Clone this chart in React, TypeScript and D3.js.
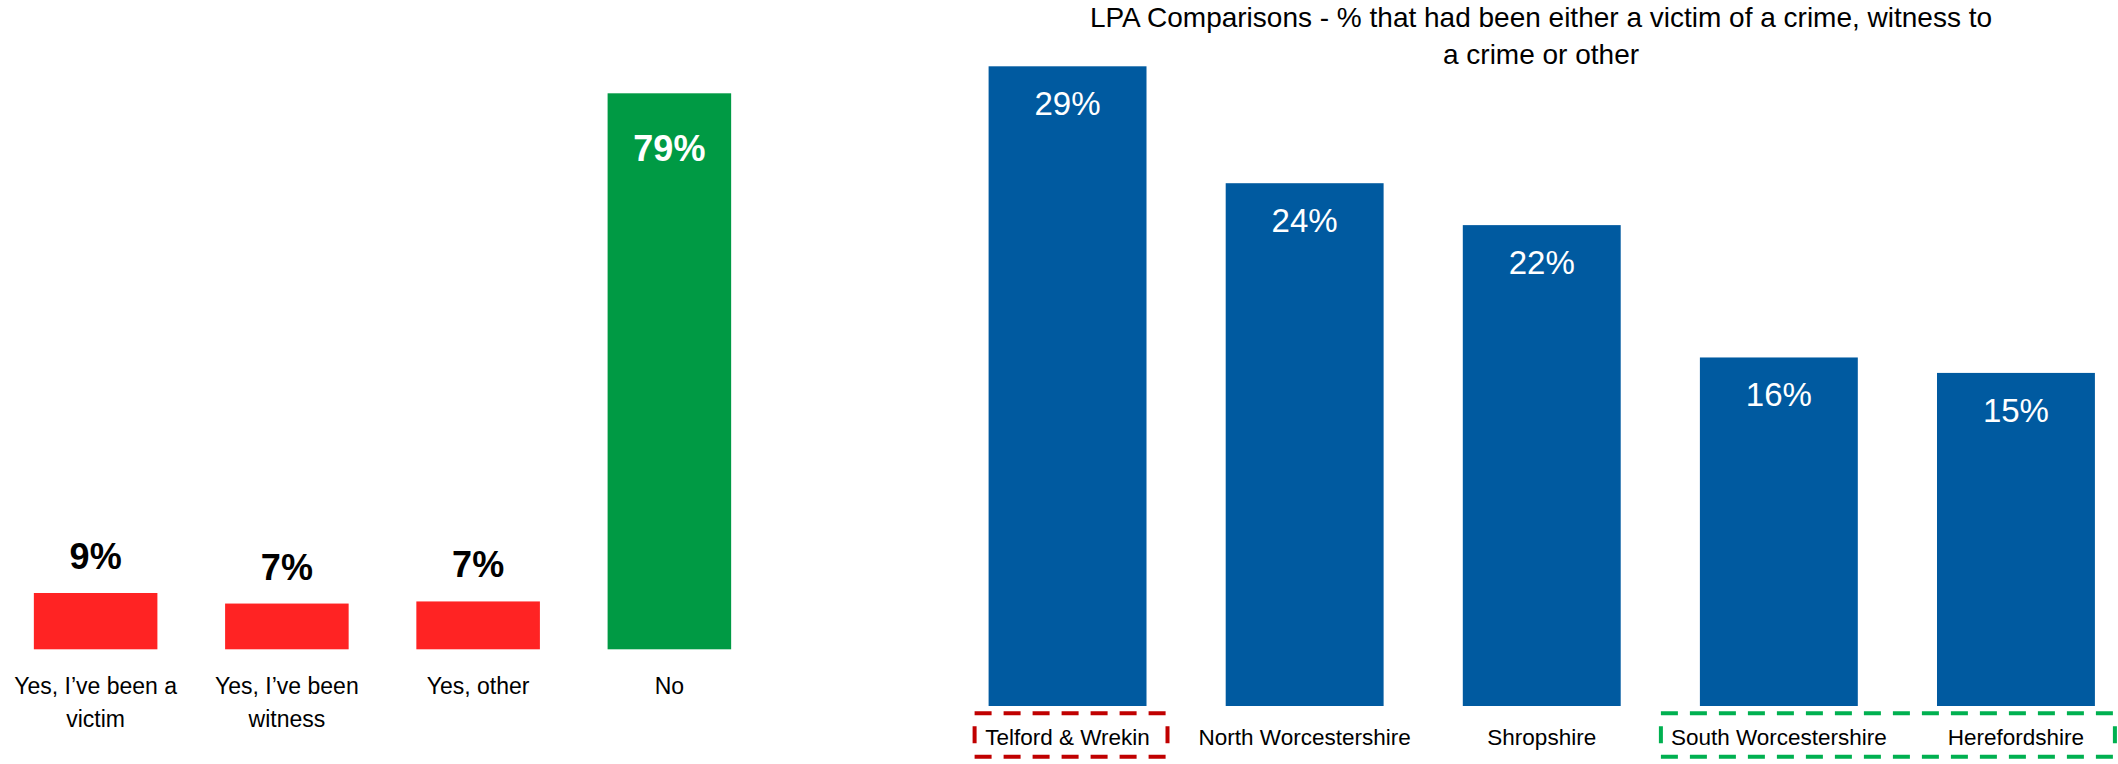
import React from "react";
import * as d3 from "d3";

// left panel: all respondents
const surveyCategories = ["victim", "witness", "other", "no"];
const surveyLines = [
  ["Yes, I’ve been a", "victim"],
  ["Yes, I’ve been", "witness"],
  ["Yes, other"],
  ["No"],
];
const surveyValues = [8.0, 6.5, 6.8, 79];
const surveyLabels = ["9%", "7%", "7%", "79%"];

// right panel: LPA comparison
const lpaCategories = [
  "Telford & Wrekin",
  "North Worcestershire",
  "Shropshire",
  "South Worcestershire",
  "Herefordshire",
];
const lpaValues = [29, 23.7, 21.8, 15.8, 15.1];
const lpaLabels = ["29%", "24%", "22%", "16%", "15%"];

const titleLines = [
  "LPA Comparisons - % that had been either a victim of a crime, witness  to",
  "a crime or other",
];

const highlightGroups = [
  { cats: ["Telford & Wrekin"], color: "#C00000", padL: 14, padR: 21 },
  { cats: ["South Worcestershire", "Herefordshire"], color: "#00B050", padL: 39, padR: 20 },
];

const W = 2118;
const H = 764;
const FONT = "'Liberation Sans Narrow', 'Arial Narrow', 'Liberation Sans', sans-serif";

const RED = "#FF2323";
const GREEN = "#009A44";
const BLUE = "#005AA0";

export default function App() {
  const xL = d3.scaleBand<string>().domain(surveyCategories).range([0, 765]).paddingInner(0.354).paddingOuter(0.177);
  const yL = d3.scaleLinear().domain([0, 79]).range([649.3, 93.3]);

  const xR = d3.scaleBand<string>().domain(lpaCategories).range([949, 2134.5]).paddingInner(0.334).paddingOuter(0.167);
  const yR = d3.scaleLinear().domain([0, 29]).range([706, 66.3]);

  return (
    <svg width={W} height={H} style={{ position: "absolute", left: 0, top: 0, background: "#fff" }} fontFamily={FONT}>
      {/* left chart */}
      {surveyCategories.map((c, i) => {
        const x = xL(c)!;
        const bw = xL.bandwidth();
        const isNo = c === "no";
        const top = yL(surveyValues[i]);
        return (
          <g key={c}>
            <rect x={x} y={top} width={bw} height={yL(0) - top} fill={isNo ? GREEN : RED} />
            <text
              x={x + bw / 2}
              y={isNo ? top + 68 : top - 24}
              textAnchor="middle"
              fontWeight="bold"
              fontSize={36}
              fill={isNo ? "#fff" : "#000"}
            >
              {surveyLabels[i]}
            </text>
            {surveyLines[i].map((ln, j) => (
              <text key={j} x={x + bw / 2} y={694 + j * 32.5} textAnchor="middle" fontSize={23} fill="#000">
                {ln}
              </text>
            ))}
          </g>
        );
      })}

      {/* right chart */}
      {titleLines.map((t, i) => (
        <text key={i} x={1541} y={26.5 + i * 37.5} textAnchor="middle" fontSize={28} fill="#000">
          {t}
        </text>
      ))}
      {lpaCategories.map((c, i) => {
        const x = xR(c)!;
        const bw = xR.bandwidth();
        const top = yR(lpaValues[i]);
        return (
          <g key={c}>
            <rect x={x} y={top} width={bw} height={yR(0) - top} fill={BLUE} />
            <text x={x + bw / 2} y={top + 49} textAnchor="middle" fontSize={33} fill="#fff">
              {lpaLabels[i]}
            </text>
            <text x={x + bw / 2} y={745} textAnchor="middle" fontSize={22.5} fill="#000">
              {c}
            </text>
          </g>
        );
      })}

      {/* dashed highlight boxes around labels */}
      {highlightGroups.map((g, i) => {
        const first = g.cats[0];
        const last = g.cats[g.cats.length - 1];
        const x0 = xR(first)! - g.padL;
        const x1 = xR(last)! + xR.bandwidth() + g.padR;
        const y0 = 713.3;
        const y1 = 756.7;
        const dash = "17 12";
        const side = "0 13 17 100";
        return (
          <g key={i} stroke={g.color} strokeWidth={4} fill="none">
            <line x1={x0} x2={x1} y1={y0} y2={y0} strokeDasharray={dash} />
            <line x1={x0} x2={x1} y1={y1} y2={y1} strokeDasharray={dash} />
            <line x1={x0} x2={x0} y1={y0} y2={y1} strokeDasharray={side} />
            <line x1={x1} x2={x1} y1={y0} y2={y1} strokeDasharray={side} />
          </g>
        );
      })}
    </svg>
  );
}
